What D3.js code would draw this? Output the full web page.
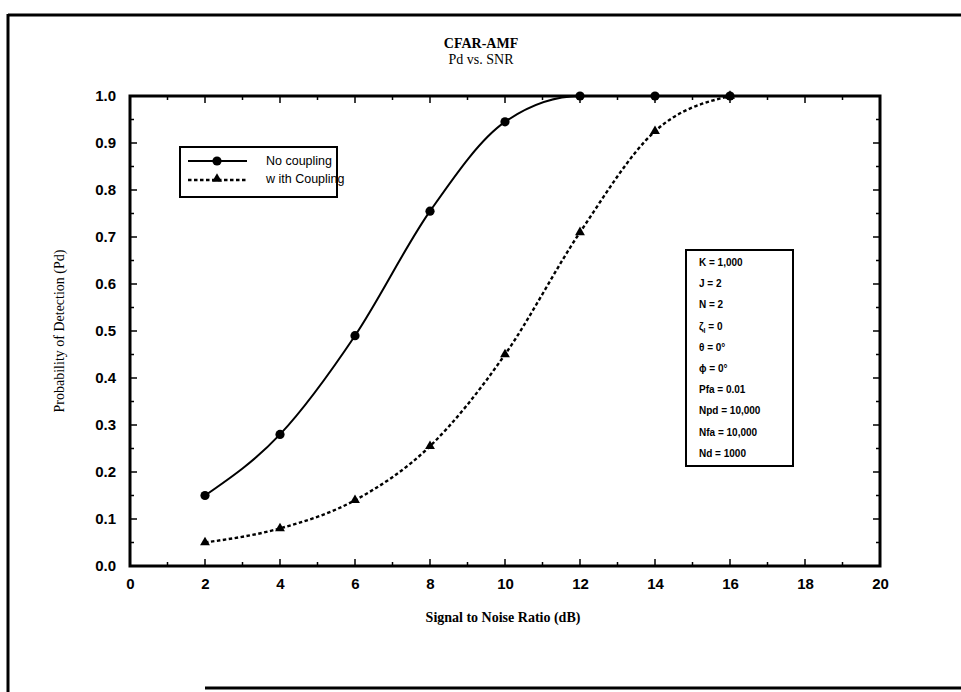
<!DOCTYPE html>
<html>
<head>
<meta charset="utf-8">
<script src="https://cdn.jsdelivr.net/npm/d3@7"></script>
<style>
  html, body { margin: 0; padding: 0; background: #fff; }
  svg { display: block; }
</style>
</head>
<body>
<svg id="chart" width="961" height="692"></svg>
<script>
// SNR values (dB) at which Pd was measured
const snr = [2, 4, 6, 8, 10, 12, 14, 16];
// Probability of detection, no coupling
const pdNoCoupling = [0.15, 0.28, 0.49, 0.755, 0.945, 1.0, 1.0, 1.0];
// Probability of detection, with coupling
const pdWithCoupling = [0.05, 0.08, 0.14, 0.255, 0.45, 0.71, 0.925, 1.0];
const xTicks = [0, 2, 4, 6, 8, 10, 12, 14, 16, 18, 20];
const yTicks = [0, 0.1, 0.2, 0.3, 0.4, 0.5, 0.6, 0.7, 0.8, 0.9, 1.0];
const seriesNames = ["No coupling", "w ith Coupling"];
const params = ["K = 1,000", "J = 2", "N = 2", "ζ|l| = 0", "θ = 0°", "ϕ = 0°", "Pfa = 0.01", "Npd = 10,000", "Nfa = 10,000", "Nd = 1000"];

const svg = d3.select("#chart");
const L = 130, R = 880, T = 96, B = 566;

const x = d3.scaleLinear().domain([0, 20]).range([L, R]);
const y = d3.scaleLinear().domain([0, 1]).range([B, T]);

// page frame
svg.append("line").attr("x1", 8).attr("x2", 961).attr("y1", 15).attr("y2", 15)
  .attr("stroke", "#000").attr("stroke-width", 3);
svg.append("line").attr("x1", 8).attr("x2", 8).attr("y1", 14).attr("y2", 692)
  .attr("stroke", "#000").attr("stroke-width", 3);
svg.append("line").attr("x1", 205).attr("x2", 961).attr("y1", 688).attr("y2", 688)
  .attr("stroke", "#000").attr("stroke-width", 3);

// titles
svg.append("text").attr("x", 481).attr("y", 48).attr("text-anchor", "middle")
  .attr("font-family", "Liberation Serif, Times New Roman, serif").attr("font-weight", "bold")
  .attr("font-size", 14).text("CFAR-AMF");
svg.append("text").attr("x", 481).attr("y", 64).attr("text-anchor", "middle")
  .attr("font-family", "Liberation Serif, Times New Roman, serif")
  .attr("font-size", 14).text("Pd vs. SNR");

// axes with inward ticks
const minorX = d3.range(0, 21, 1);
const minorY = d3.range(0, 1.001, 0.05);

const gx = svg.append("g").attr("transform", `translate(0,${B})`)
  .call(d3.axisBottom(x).tickValues(xTicks).tickSize(0).tickPadding(12).tickFormat(d3.format("d")));
const gy = svg.append("g").attr("transform", `translate(${L},0)`)
  .call(d3.axisLeft(y).tickValues(yTicks).tickSize(0).tickPadding(14).tickFormat(d3.format(".1f")));
[gx, gy].forEach(g => {
  g.select(".domain").remove();
  g.selectAll("text").attr("font-family", "Liberation Sans, Arial, sans-serif")
    .attr("font-weight", "bold").attr("font-size", 15).attr("fill", "#000");
});

const ticks = svg.append("g").attr("stroke", "#000").attr("stroke-width", 1.5);
minorX.forEach(v => {
  const len = v % 2 === 0 ? 7 : 4;
  ticks.append("line").attr("x1", x(v)).attr("x2", x(v)).attr("y1", B).attr("y2", B - len);
  ticks.append("line").attr("x1", x(v)).attr("x2", x(v)).attr("y1", T).attr("y2", T + len);
});
minorY.forEach(v => {
  const major = Math.abs(Math.round(v * 10) - v * 10) < 1e-6;
  const len = major ? 7 : 4;
  ticks.append("line").attr("x1", L).attr("x2", L + len).attr("y1", y(v)).attr("y2", y(v));
  ticks.append("line").attr("x1", R).attr("x2", R - len).attr("y1", y(v)).attr("y2", y(v));
});

svg.append("rect").attr("x", L).attr("y", T).attr("width", R - L).attr("height", B - T)
  .attr("fill", "none").attr("stroke", "#000").attr("stroke-width", 3);

// axis titles
svg.append("text").attr("transform", `translate(64,${(T + B) / 2}) rotate(-90)`)
  .attr("text-anchor", "middle").attr("font-family", "Liberation Serif, Times New Roman, serif")
  .attr("font-size", 14).text("Probability of Detection (Pd)");
svg.append("text").attr("x", (L + R) / 2 - 2).attr("y", 622).attr("text-anchor", "middle")
  .attr("font-family", "Liberation Serif, Times New Roman, serif").attr("font-weight", "bold")
  .attr("font-size", 14).text("Signal to Noise Ratio (dB)");

// curves
const line = d3.line().x(d => x(d[0])).y(d => y(d[1])).curve(d3.curveMonotoneX);
const dataA = snr.map((s, i) => [s, pdNoCoupling[i]]);
const dataB = snr.map((s, i) => [s, pdWithCoupling[i]]);

svg.append("path").datum(dataA).attr("d", line).attr("fill", "none")
  .attr("stroke", "#000").attr("stroke-width", 2);
svg.append("path").datum(dataB).attr("d", line).attr("fill", "none")
  .attr("stroke", "#000").attr("stroke-width", 2.4).attr("stroke-dasharray", "3.5,2.5");

const tri = d3.symbol().type(d3.symbolTriangle).size(42);
svg.selectAll(".pa").data(dataA).enter().append("circle")
  .attr("cx", d => x(d[0])).attr("cy", d => y(d[1])).attr("r", 4.6).attr("fill", "#000");
svg.selectAll(".pb").data(dataB).enter().append("path")
  .attr("d", tri).attr("transform", d => `translate(${x(d[0])},${y(d[1])})`).attr("fill", "#000");

// legend
const lg = svg.append("g");
lg.append("rect").attr("x", 180).attr("y", 147).attr("width", 157).attr("height", 50)
  .attr("fill", "#fff").attr("stroke", "#000").attr("stroke-width", 2);
lg.append("line").attr("x1", 188).attr("x2", 247).attr("y1", 161).attr("y2", 161)
  .attr("stroke", "#000").attr("stroke-width", 2);
lg.append("circle").attr("cx", 217).attr("cy", 161).attr("r", 4.6).attr("fill", "#000");
lg.append("line").attr("x1", 188).attr("x2", 247).attr("y1", 180).attr("y2", 180)
  .attr("stroke", "#000").attr("stroke-width", 2.4).attr("stroke-dasharray", "3.5,2.5");
lg.append("path").attr("d", tri).attr("transform", "translate(217,179)").attr("fill", "#000");
seriesNames.forEach((n, i) => {
  lg.append("text").attr("x", 266).attr("y", 165 + i * 18)
    .attr("font-family", "Liberation Sans, Arial, sans-serif").attr("font-size", 12.5).text(n);
});

// parameter box
const pb = svg.append("g");
pb.append("rect").attr("x", 686).attr("y", 250).attr("width", 107).attr("height", 216)
  .attr("fill", "#fff").attr("stroke", "#000").attr("stroke-width", 2);
params.forEach((p, i) => {
  const t = pb.append("text").attr("x", 699).attr("y", 266 + i * 21.2)
    .attr("font-family", "Liberation Sans, Arial, sans-serif").attr("font-weight", "bold")
    .attr("font-size", 10);
  const parts = p.split("|");
  if (parts.length === 3) {
    t.append("tspan").text(parts[0]);
    t.append("tspan").attr("font-size", 7).attr("dy", 3).text(parts[1]);
    t.append("tspan").attr("dy", -3).text(parts[2]);
  } else {
    t.text(p);
  }
});
</script>
</body>
</html>
